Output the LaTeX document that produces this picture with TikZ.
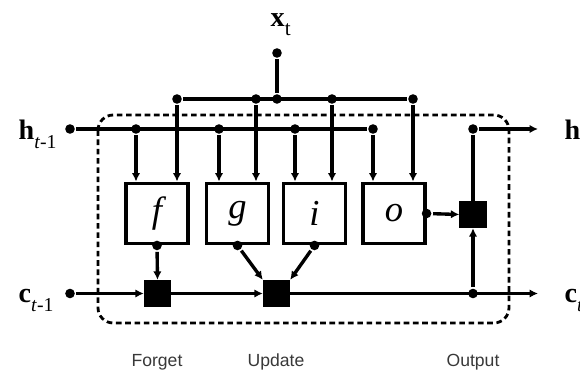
\documentclass[tikz,border=0pt]{standalone}
\usepackage{fontspec}
\setmainfont{Liberation Serif}
\newfontfamily\labelfont{Liberation Sans}
\usetikzlibrary{arrows.meta, positioning}

\begin{document}
\begin{tikzpicture}[x=0.025cm, y=-0.025cm,
  line width=2.4pt,
  gate/.style={draw, line width=2.2pt, minimum width=1.55cm, minimum height=1.52cm, inner sep=0pt, font=\fontsize{26}{28}\selectfont\itshape},
  mult/.style={draw, fill=black, minimum size=0.6cm, inner sep=0pt},
  dot/.style={circle, fill=black, inner sep=0pt, minimum size=0.24cm},
  arr/.style={-{Latex[length=6pt, width=6pt]}},
  var/.style={inner sep=0pt, font=\fontsize{20}{24}\selectfont},
  phase/.style={inner sep=0pt, anchor=base, text=black!78, font=\labelfont\fontsize{12.5}{14}\selectfont}
]
\useasboundingbox (0,0) rectangle (580,372);

% cell border
\draw[line width=2pt, dash pattern=on 4pt off 2.6pt, rounded corners=0.38cm] (98,115) rectangle (509,323);

% gates and multiplications
\node[gate] (f) at (157,213.5) {f};
\node[gate] (g) at (237.5,213.5) {g};
\node[gate] (i) at (314.5,213.5) {i};
\node[gate] (o) at (394,213.5) {o};
\node[mult] (mf) at (157.5,293.5) {};
\node[mult] (mu) at (276.5,293.5) {};
\node[mult] (mo) at (473,214.5) {};

% inputs
\node[dot] (xin) at (277,53) {};
\node[dot] (hin) at (70,129) {};
\node[dot] (cin) at (70,293.5) {};
\node[var, anchor=base west] (xlab) at (269,27) {\textbf{x}\raisebox{-6pt}{\fontsize{15}{16}\selectfont t}};
\node[var, anchor=base west] (hlab) at (17,140) {\textbf{h}\raisebox{-5.7pt}{\fontsize{14}{16}\selectfont\textit{t}-1}};
\node[var, anchor=base west] (clab) at (17,303) {\textbf{c}\raisebox{-5.7pt}{\fontsize{14}{16}\selectfont\textit{t}-1}};
\node[var, anchor=base west] (hout) at (563,140) {\textbf{h}\raisebox{-5.7pt}{\fontsize{14}{16}\selectfont\textit{t}}};
\node[var, anchor=base west] (cout) at (563,303) {\textbf{c}\raisebox{-5.7pt}{\fontsize{14}{16}\selectfont\textit{t}}};

% x bus
\node[dot] (xf) at (177,99) {};
\node[dot] (xg) at (256,99) {};
\node[dot] (xj) at (277,99) {};
\node[dot] (xi) at (332,99) {};
\node[dot] (xo) at (413,99) {};
\draw (xin) -- (xj);
\draw (xf) -- (xo);

% h bus
\node[dot] (hf) at (136,129) {};
\node[dot] (hg) at (219,129) {};
\node[dot] (hi) at (295,129) {};
\node[dot] (ho) at (373,129) {};
\draw (hin) -- (ho);

% into the gates
\foreach \s/\t in {hf/f, xf/f, hg/g, xg/g, hi/i, xi/i, ho/o, xo/o}
  \draw[arr] (\s) -- (\s |- \t.north);

% gate outputs
\node[dot] (fd) at (f.south) {};
\node[dot] (gd) at (g.south) {};
\node[dot] (id) at (i.south) {};
\node[dot] (od) at (o.east) {};
\draw[arr] (fd) -- (mf.north);
\draw[arr] (gd) -- (mu.north west);
\draw[arr] (id) -- (mu.north east);
\draw[arr] (od) -- (mo.west);

% cell state
\coordinate (cend) at (538,293.5);
\node[dot] (cd) at (473,293.5) {};
\draw[arr] (cin) -- (mf.west);
\draw[arr] (mf.east) -- (mu.west);
\draw[arr] (mu.east) -- (cend);
\draw[arr] (cd) -- (mo.south);

% hidden output
\coordinate (hend) at (538,129);
\node[dot] (hd) at (473,129) {};
\draw (mo.north) -- (hd);
\draw[arr] (hd) -- (hend);

% phases
\node[phase] (forget) at (157,367) {Forget};
\node[phase] (update) at (276,367) {Update};
\node[phase] (output) at (473,367) {Output};
\end{tikzpicture}
\end{document}
